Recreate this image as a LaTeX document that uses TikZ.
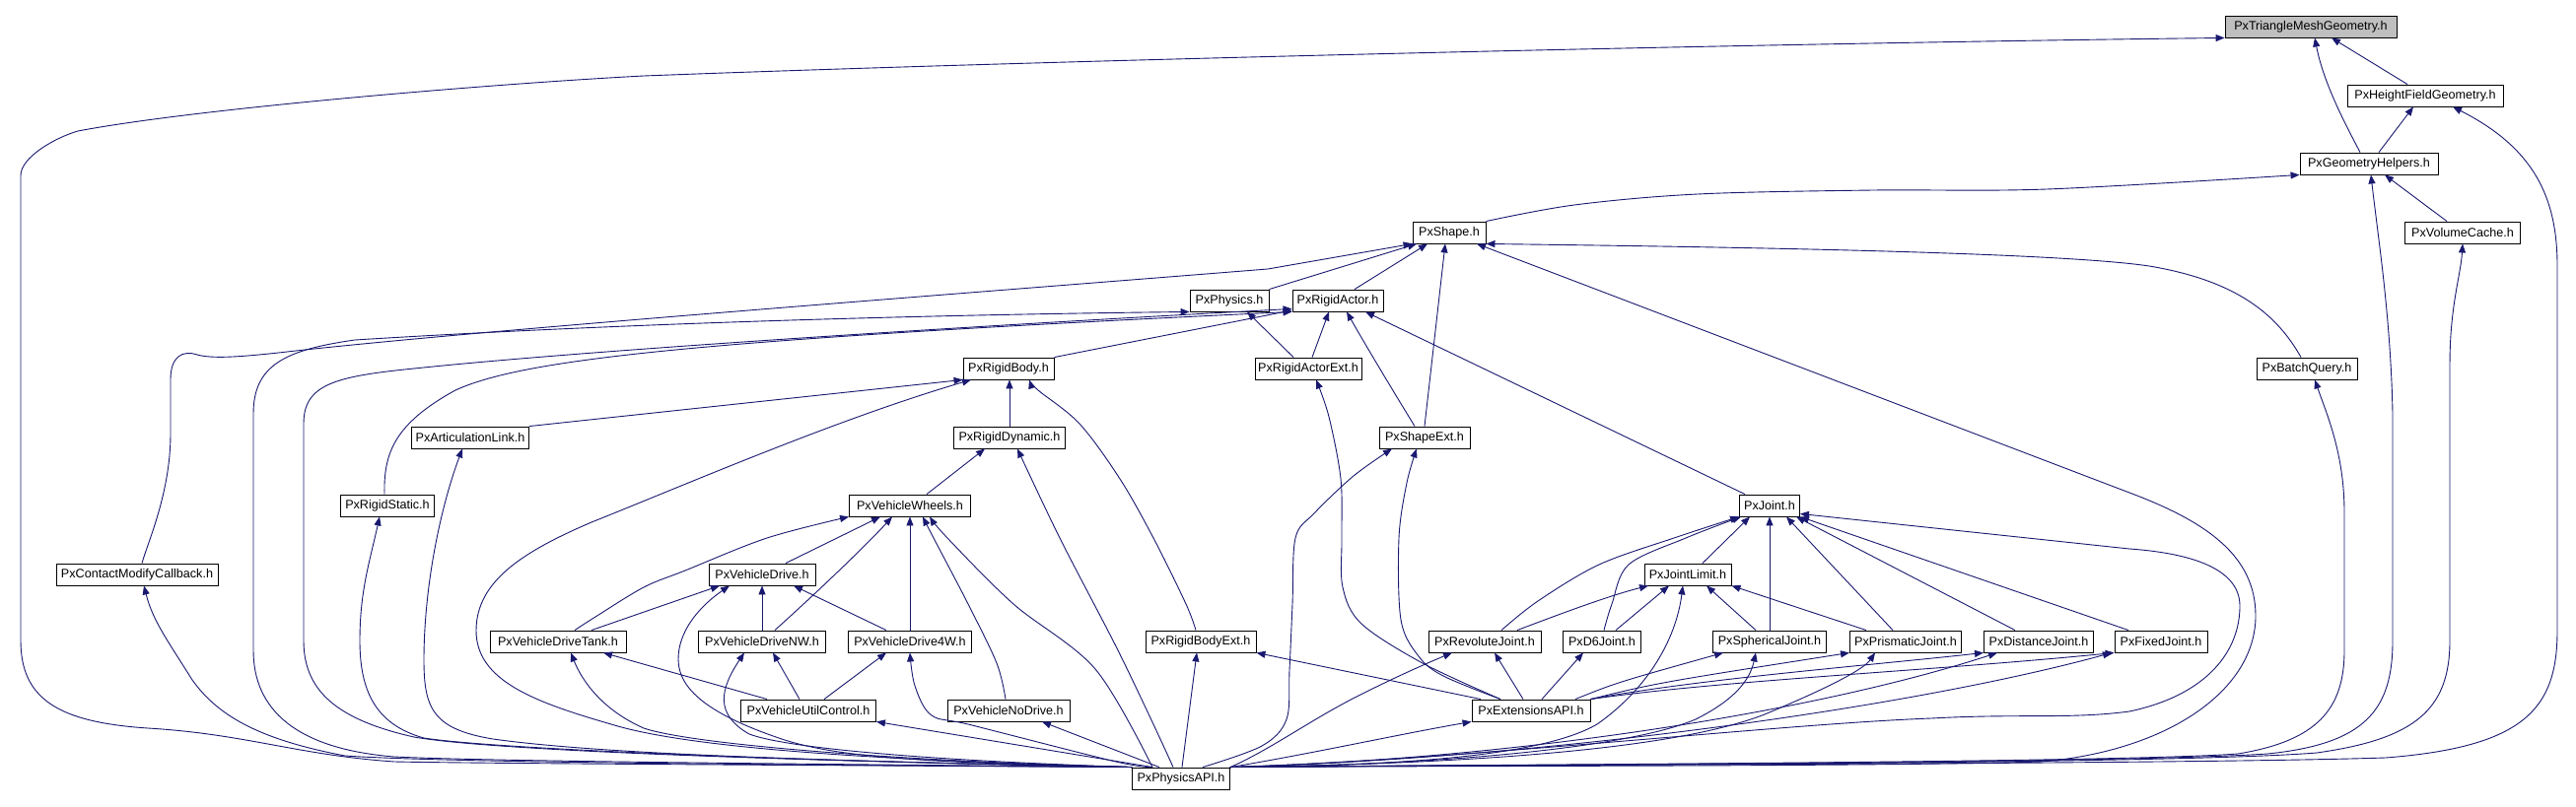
\documentclass[tikz,border=0pt]{standalone}
\usepackage{fontspec}
\setmainfont{Liberation Sans}
\usetikzlibrary{arrows.meta}
\definecolor{edgeblue}{RGB}{25,25,112}
\tikzset{
 fbox/.style={draw=black, line width=0.9bp, fill=white, minimum height=22bp, inner sep=0pt, font=\fontsize{12.6bp}{14bp}\selectfont},
 edge/.style={draw=edgeblue, line width=0.9bp, -{Triangle[length=9bp,width=7bp]}},
 sm/.style={smooth, tension=0.55}
}
\begin{document}
\begin{tikzpicture}[x=1bp,y=-1bp]
\fill[white] (0,0) rectangle (2613,819);
\useasboundingbox (0,0) rectangle (2613,819);
% nodes
\node[fbox, fill=black!25, minimum width=174bp] (trimesh) at (2344,27) {PxTriangleMeshGeometry.h};
\node[fbox, minimum width=158bp] (hf) at (2460,97) {PxHeightFieldGeometry.h};
\node[fbox, minimum width=140bp] (gh) at (2403,166) {PxGeometryHelpers.h};
\node[fbox, minimum width=117bp] (vc) at (2498,236) {PxVolumeCache.h};
\node[fbox, minimum width=74bp] (shape) at (1470,236) {PxShape.h};
\node[fbox, minimum width=80bp] (physics) at (1247,305) {PxPhysics.h};
\node[fbox, minimum width=92bp] (ractor) at (1357,305) {PxRigidActor.h};
\node[fbox, minimum width=92bp] (rbody) at (1023,374) {PxRigidBody.h};
\node[fbox, minimum width=108bp] (raext) at (1327,374) {PxRigidActorExt.h};
\node[fbox, minimum width=102bp] (bq) at (2340,374) {PxBatchQuery.h};
\node[fbox, minimum width=119bp] (alink) at (477,444) {PxArticulationLink.h};
\node[fbox, minimum width=113bp] (rdyn) at (1024,444) {PxRigidDynamic.h};
\node[fbox, minimum width=92bp] (sext) at (1445,444) {PxShapeExt.h};
\node[fbox, minimum width=95bp] (rstatic) at (393,513) {PxRigidStatic.h};
\node[fbox, minimum width=123bp] (wheels) at (923,513) {PxVehicleWheels.h};
\node[fbox, minimum width=61bp] (joint) at (1795,513) {PxJoint.h};
\node[fbox, minimum width=164bp] (cmod) at (139,583) {PxContactModifyCallback.h};
\node[fbox, minimum width=108bp] (vdrive) at (773,583) {PxVehicleDrive.h};
\node[fbox, minimum width=88bp] (jlimit) at (1712,583) {PxJointLimit.h};
\node[fbox, minimum width=138bp] (tank) at (566,651) {PxVehicleDriveTank.h};
\node[fbox, minimum width=129bp] (nw) at (773,651) {PxVehicleDriveNW.h};
\node[fbox, minimum width=125bp] (fourw) at (923,651) {PxVehicleDrive4W.h};
\node[fbox, minimum width=112bp] (rbext) at (1218,651) {PxRigidBodyExt.h};
\node[fbox, minimum width=114bp] (revo) at (1506,651) {PxRevoluteJoint.h};
\node[fbox, minimum width=79bp] (dsix) at (1625,651) {PxD6Joint.h};
\node[fbox, minimum width=115bp] (sph) at (1795,651) {PxSphericalJoint.h};
\node[fbox, minimum width=113bp] (prism) at (1933,651) {PxPrismaticJoint.h};
\node[fbox, minimum width=111bp] (dist) at (2068,651) {PxDistanceJoint.h};
\node[fbox, minimum width=94bp] (fixed) at (2192,651) {PxFixedJoint.h};
\node[fbox, minimum width=137bp] (util) at (820,721) {PxVehicleUtilControl.h};
\node[fbox, minimum width=124bp] (nodrive) at (1023,721) {PxVehicleNoDrive.h};
\node[fbox, minimum width=120bp] (extapi) at (1553,721) {PxExtensionsAPI.h};
\node[fbox, minimum width=99bp] (pa) at (1198,790) {PxPhysicsAPI.h};

% top group
\draw[edge] (pa.north west) .. controls (900,777) and (500,775) .. (400,773) .. controls (300,766) and (250,745) .. (150,739) .. controls (60,733) and (21,710) .. (21,650) -- (21,178) .. controls (21,160) and (55,140) .. (79,133) .. controls (200,110) and (500,85) .. (653,77) .. controls (1100,60) and (1800,44) .. (trimesh.south west);
\draw[edge] ([xshift=-18bp]hf.north) -- ([xshift=21bp]trimesh.south);
\draw[edge] ([xshift=-9bp]gh.north) .. controls (2380,128) and (2357,85) .. ([xshift=4bp]trimesh.south);
\draw[edge] (pa.north east) .. controls (1500,776) and (2200,776) .. (2420,769) .. controls (2560,758) and (2594,720) .. (2594,640) -- (2594,270) .. controls (2594,200) and (2570,150) .. ([xshift=28bp]hf.south);
\draw[edge] ([xshift=10bp]gh.north) -- ([xshift=-12bp]hf.south);
\draw[edge] plot[sm] coordinates {(shape.north east) (1597,208) (1722,197) (1900,193) (2076,192) (gh.south west)};
\draw[edge] ([xshift=-16bp]vc.north) -- ([xshift=16bp]gh.south);
\draw[edge] (pa.north east) .. controls (1500,776) and (2150,775) .. (2300,765) .. controls (2400,755) and (2427,720) .. (2427,650) -- (2427,420) .. controls (2425,320) and (2412,240) .. ([xshift=2bp]gh.south);
\draw[edge] (pa.north east) .. controls (1500,776) and (2200,776) .. (2350,764) .. controls (2450,750) and (2485,720) .. (2485,650) -- (2485,370) .. controls (2485,310) and (2496,280) .. (vc.south);
\draw[edge] (pa.north east) .. controls (1500,776) and (2150,774) .. (2270,765) .. controls (2350,752) and (2378,720) .. (2378,660) -- (2378,520) .. controls (2378,460) and (2360,420) .. ([xshift=8bp]bq.south);
\draw[edge] ([xshift=-6bp]bq.north) .. controls (2310,320) and (2270,285) .. (2180,270) .. controls (2080,255) and (1700,250) .. (shape.south east);
\draw[edge] (pa.north east) .. controls (1500,777) and (1900,778) .. (2071,773) .. controls (2200,762) and (2288,700) .. (2288,625) .. controls (2288,565) and (2240,530) .. (2160,500) -- ([xshift=28bp]shape.south);
\draw[edge] (pa.north east) .. controls (1500,770) and (1800,735) .. (1959,729) .. controls (2050,724) and (2100,730) .. (2160,722) .. controls (2240,705) and (2272,660) .. (2272,615) .. controls (2272,580) and (2230,562) .. (2160,557) -- ([yshift=3bp]joint.south east);

% shape / physics / actor
\draw[edge] (physics.north east) -- ([xshift=-33bp]shape.south);
\draw[edge] ([xshift=17bp]ractor.north) -- ([xshift=-22bp]shape.south);
\draw[edge] (sext.north) -- ([xshift=-4bp]shape.south);
\draw[edge] ([xshift=5bp]cmod.north) .. controls (150,550) and (173,500) .. (173,440) -- (173,385) .. controls (173,362) and (185,355) .. (200,360) .. controls (215,364) and (240,363) .. (300,356) .. controls (500,334) and (1000,296) .. (1286,273) -- (shape.south west);
\draw[edge] (pa.north west) .. controls (900,776) and (500,773) .. (400,768) .. controls (300,760) and (257,720) .. (257,660) -- (257,420) .. controls (257,370) and (290,355) .. (360,345) .. controls (600,330) and (900,320) .. (physics.south west);
\draw[edge] ([xshift=-15bp]raext.north) -- ([xshift=18bp]physics.south);
\draw[edge] (pa.north west) .. controls (800,772) and (500,762) .. (420,748) .. controls (340,730) and (308,700) .. (308,650) -- (308,430) .. controls (308,390) and (340,382) .. (420,374) .. controls (600,355) and (1000,330) .. ([yshift=3bp]ractor.south west);
\draw[edge] ([xshift=-3bp]rstatic.north) .. controls (389,460) and (400,430) .. (462,396) .. controls (530,365) and (700,345) .. (ractor.south west);
\draw[edge] (rbody.north east) -- ([yshift=1.5bp]ractor.south west);
\draw[edge] ([xshift=4bp]raext.north) -- ([xshift=-9bp]ractor.south);
\draw[edge] ([xshift=-10bp]sext.north) .. controls (1412,395) and (1385,350) .. ([xshift=9bp]ractor.south);
\draw[edge] ([xshift=-25bp]joint.north) -- ([xshift=28bp]ractor.south);

% rigid body group
\draw[edge] (alink.north east) -- (rbody.south west);
\draw[edge] (pa.north west) .. controls (900,772) and (700,760) .. (620,735) .. controls (540,712) and (483,690) .. (483,640) .. controls (483,590) and (530,560) .. (600,530) .. controls (700,490) and (850,425) .. ([xshift=-38bp]rbody.south);
\draw[edge] (rdyn.north) -- (rdyn.north |- rbody.south);
\draw[edge] plot[sm] coordinates {([xshift=-5bp]rbext.north) (1203,613) (1170,546) (1136,486) (1095,430) (1053,396) ([xshift=21bp]rbody.south)};
\draw[edge] plot[sm] coordinates {([xshift=-31bp]extapi.north) (1443,673) (1381,633) (1362,596) (1361,546) (1360,486) (1348,423) ([xshift=8bp]raext.south)};
\draw[edge] (pa.north west) .. controls (800,772) and (600,764) .. (500,750) .. controls (440,740) and (430,720) .. (430,670) .. controls (430,600) and (445,520) .. ([xshift=-8bp]alink.south);
\draw[edge] ([xshift=17bp]wheels.north) -- ([xshift=-25bp]rdyn.south);
\draw[edge] plot[sm] coordinates {([xshift=-8bp]pa.north) (1169,733) (1132,656) (1075,546) ([xshift=8bp]rdyn.south)};
\draw[edge] plot[sm] coordinates {([xshift=22bp]pa.north) (1280,757) (1305,730) (1308,680) (1311,613) (1314,546) (1333,521) (1373,483) ([xshift=-33bp]sext.south)};
\draw[edge] plot[sm] coordinates {([xshift=-31bp]extapi.north) (1464,686) (1439,666) (1421,629) (1419,546) (1427,490) ([xshift=-8bp]sext.south)};
\draw[edge] (pa.north west) .. controls (800,772) and (500,760) .. (430,749) .. controls (380,735) and (365,700) .. (365,650) .. controls (365,600) and (375,570) .. ([xshift=-8bp]rstatic.south);

% vehicle group
\draw[edge] plot[sm] coordinates {([xshift=17bp]tank.north) (604,626) (653,596) (695,579) (778,546) (wheels.south west)};
\draw[edge] ([xshift=24bp]vdrive.north) -- ([xshift=-30bp]wheels.south);
\draw[edge] ([xshift=13bp]nw.north) .. controls (830,600) and (880,552) .. ([xshift=-18bp]wheels.south);
\draw[edge] (fourw.north) -- (wheels.south);
\draw[edge] plot[sm] coordinates {([xshift=-3bp]nodrive.north) (1011,673) (982,613) (947,546) ([xshift=13bp]wheels.south)};
\draw[edge] plot[sm] coordinates {([xshift=-29bp]pa.north) (1111,679) (1028,613) (961,546) ([xshift=20bp]wheels.south)};
\draw[edge] (pa.north west) .. controls (800,776) and (450,774) .. (350,767) .. controls (260,750) and (220,725) .. (195,690) .. controls (170,650) and (155,630) .. ([xshift=7bp]cmod.south);
\draw[edge] ([xshift=34bp]tank.north) -- ([xshift=-43bp]vdrive.south);
\draw[edge] (pa.north west) .. controls (950,774) and (850,770) .. (790,749) .. controls (720,725) and (688,700) .. (688,669) .. controls (688,640) and (710,615) .. ([xshift=-33bp]vdrive.south);
\draw[edge] (nw.north) -- (vdrive.south);
\draw[edge] ([xshift=-24bp]fourw.north) -- ([xshift=32bp]vdrive.south);
\draw[edge] (pa.north west) .. controls (900,772) and (700,755) .. (653,739) .. controls (610,720) and (590,690) .. ([xshift=13bp]tank.south);
\draw[edge] ([xshift=-42bp]util.north) -- ([xshift=46bp]tank.south);
\draw[edge] (pa.north west) .. controls (950,772) and (800,760) .. (760,745) .. controls (725,725) and (730,700) .. ([xshift=-18bp]nw.south);
\draw[edge] ([xshift=-9bp]util.north) -- ([xshift=11bp]nw.south);
\draw[edge] ([xshift=16bp]util.north) -- ([xshift=-24bp]fourw.south);
\draw[edge] plot[sm] coordinates {([xshift=-29bp]pa.north) (1132,773) (986,736) (945,726) (928,696) (fourw.south)};
\draw[edge] ([xshift=1bp]pa.north) -- ([xshift=-4bp]rbext.south);
\draw[edge] ([xshift=-51bp]extapi.north) -- (rbext.south east);
\draw[edge] ([xshift=-29bp]pa.north) -- (util.south east);
\draw[edge] ([xshift=-22bp]pa.north) -- ([xshift=34bp]nodrive.south);
\draw[edge] (pa.north east) .. controls (1330,765) and (1420,745) .. (extapi.south west);

% joint group
\draw[edge] plot[sm] coordinates {([xshift=17bp]revo.north) (1560,610) (1622,573) (1698,546) (joint.south west)};
\draw[edge] plot[sm] coordinates {([xshift=2bp]dsix.north) (1635,613) (1652,573) (1710,546) ([xshift=2bp]joint.south west)};
\draw[edge] ([xshift=15bp]jlimit.north) -- ([xshift=-20bp]joint.south);
\draw[edge] (sph.north) -- (joint.south);
\draw[edge] ([xshift=-13bp]prism.north) -- ([xshift=17bp]joint.south);
\draw[edge] ([xshift=-24bp]dist.north) -- ([xshift=27bp]joint.south);
\draw[edge] ([xshift=-33bp]fixed.north) -- (joint.south east);
\draw[edge] ([xshift=33bp]revo.north) .. controls (1575,626) and (1630,605) .. ([xshift=-40bp]jlimit.south);
\draw[edge] ([xshift=14bp]dsix.north) -- ([xshift=-19bp]jlimit.south);
\draw[edge] (pa.north east) .. controls (1400,777) and (1560,770) .. (1620,735) .. controls (1670,700) and (1700,650) .. ([xshift=-5bp]jlimit.south);
\draw[edge] ([xshift=-14bp]sph.north) -- ([xshift=19bp]jlimit.south);
\draw[edge] ([xshift=-40bp]prism.north) -- (jlimit.south east);
\draw[edge] (pa.north east) .. controls (1290,760) and (1330,730) .. (1380,705) .. controls (1420,685) and (1450,672) .. ([xshift=-33bp]revo.south);
\draw[edge] ([xshift=-8bp]extapi.north) -- ([xshift=10bp]revo.south);
\draw[edge] ([xshift=11bp]extapi.north) -- ([xshift=-19bp]dsix.south);
\draw[edge] ([xshift=45bp]extapi.north) .. controls (1639,693) .. ([xshift=-47bp]sph.south);
\draw[edge] (pa.north east) .. controls (1450,777) and (1650,760) .. (1720,730) .. controls (1760,710) and (1775,690) .. ([xshift=-14bp]sph.south);
\draw[edge] (extapi.north east) .. controls (1681,693) .. (prism.south west);
\draw[edge] (pa.north east) .. controls (1500,775) and (1700,760) .. (1790,725) .. controls (1850,700) and (1890,680) .. ([xshift=-31bp]prism.south);
\draw[edge] (extapi.north east) .. controls (1722,689) and (1900,675) .. (dist.south west);
\draw[edge] (pa.north east) .. controls (1550,770) and (1850,720) .. ([xshift=-42bp]dist.south);
\draw[edge] (extapi.north east) .. controls (1750,690) and (1959,681) .. (fixed.south west);
\draw[edge] (pa.north east) .. controls (1600,768) and (1959,713) .. ([xshift=-50bp]fixed.south);
\end{tikzpicture}
\end{document}
